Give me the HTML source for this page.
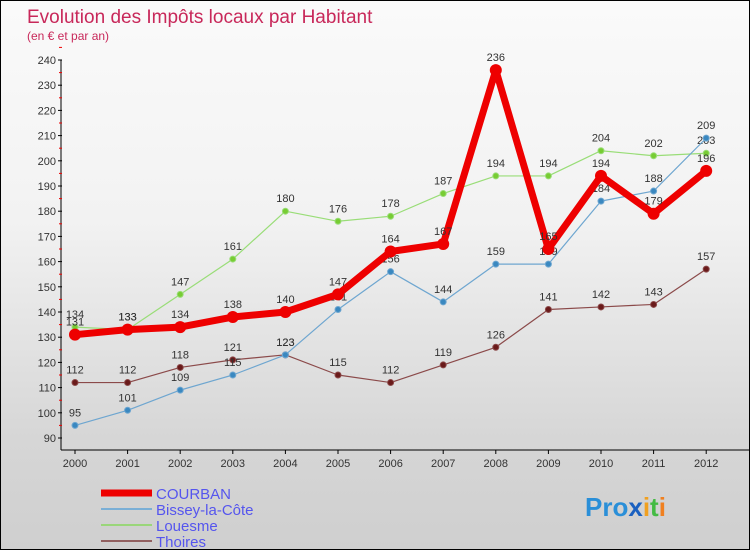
<!DOCTYPE html>
<html><head><meta charset="utf-8"><style>
body{margin:0}
#c{width:748px;height:548px;border:1px solid #000;background:linear-gradient(#fafafa 0%,#f2f2f2 40%,#d6d6d6 80%,#cfcfcf 100%);position:relative;font-family:"Liberation Sans",sans-serif}
</style></head><body>
<div id="c">
<svg width="748" height="548" id="s">
<text x="26" y="22" font-size="19" fill="#c8285a">Evolution des Impôts locaux par Habitant</text>
<text x="26" y="39" font-size="12" fill="#c8285a">(en € et par an)</text>
</svg></div>
<script>
const years=[2000,2001,2002,2003,2004,2005,2006,2007,2008,2009,2010,2011,2012];
const courban=[131,133,134,138,140,147,164,167,236,165,194,179,196];
const bissey=[95,101,109,115,123,141,156,144,159,159,184,188,209];
const louesme=[134,133,147,161,180,176,178,187,194,194,204,202,203];
const thoires=[112,112,118,121,123,115,112,119,126,141,142,143,157];
const yTicks=[90,100,110,120,130,140,150,160,170,180,190,200,210,220,230,240];
const NS="http://www.w3.org/2000/svg";
const s=document.getElementById('s');
const X=i=>74+i*52.6, Y=v=>437-(v-90)*2.52;
function el(t,a,p){const e=document.createElementNS(NS,t);for(const k in a)e.setAttribute(k,a[k]);(p||s).appendChild(e);return e;}
const ax=el('g',{});


let l=el('line',{x1:60,y1:Y(240),x2:60,y2:449,stroke:'#000'},ax);
l=el('line',{x1:60,y1:449,x2:748,y2:449,stroke:'#000'},ax);
yTicks.forEach(v=>{
 el('line',{x1:57,x2:61,y1:Y(v),y2:Y(v),stroke:'#000'},ax);
 el('line',{x1:58,x2:61,y1:Y(v+5),y2:Y(v+5),stroke:'#e00'},ax);
 const t=el('text',{x:55,y:Y(v)+4,'font-size':11,fill:'#333','text-anchor':'end'},ax);
 
 
 t.textContent=v;
});
years.forEach((y,i)=>{
 el('line',{x1:X(i),x2:X(i),y1:449,y2:453,stroke:'#000'},ax);
 const t=el('text',{x:X(i),y:466,'font-size':11,fill:'#333','text-anchor':'middle'},ax);
 
 
 t.textContent=y;
});
function series(d,col,w,r,dot,name,lblDy){
 const g=el('g',{});
 
 
 el('polyline',{points:d.map((v,i)=>X(i)+','+Y(v)).join(' '),fill:'none',stroke:col,'stroke-width':w,'stroke-linejoin':'round'},g);
 d.forEach((v,i)=>{
  const c=el('circle',{cx:X(i),cy:Y(v),r:r,fill:dot,stroke:col,'stroke-width':r>4?0:1},g);
  
  
  const t=el('text',{x:X(i),y:Y(v)-9,'font-size':11,fill:'#333','text-anchor':'middle'},g);
  
  
  t.textContent=v;
 });
}
series(thoires,'#8b4a4a',1.2,3,'#6a1a1a','thoires');
series(louesme,'#99dd77',1.2,3,'#77cc33','louesme');
series(bissey,'#6ea6d0',1.2,3,'#3a88c0','bissey');
series(courban,'#ee0000',7,6,'#ee0000','courban');
const leg=[['COURBAN','#ee0000',7],['Bissey-la-Côte','#7aafd6',2],['Louesme','#9ad67a',2],['Thoires','#916060',2]];
leg.forEach((e,i)=>{
 const g=el('g',{});
 
 
 const y=492+i*16;
 el('line',{x1:100,x2:151,y1:y,y2:y,stroke:e[1],'stroke-width':e[2]},g);
 const t=el('text',{x:155,y:y+6,'font-size':15,fill:'#5555ee'},g);
 t.textContent=e[0];
});
const p=el('text',{x:584,y:515,'font-size':26,'font-weight':'bold',fill:'#f08020'});


p.innerHTML='<tspan fill="#2a8fd8">Pro</tspan><tspan fill="#1a60c0">x</tspan><tspan fill="#f0a020">i</tspan><tspan fill="#44bb44">t</tspan><tspan fill="#f08020">i</tspan>';
</script>
</body></html>
